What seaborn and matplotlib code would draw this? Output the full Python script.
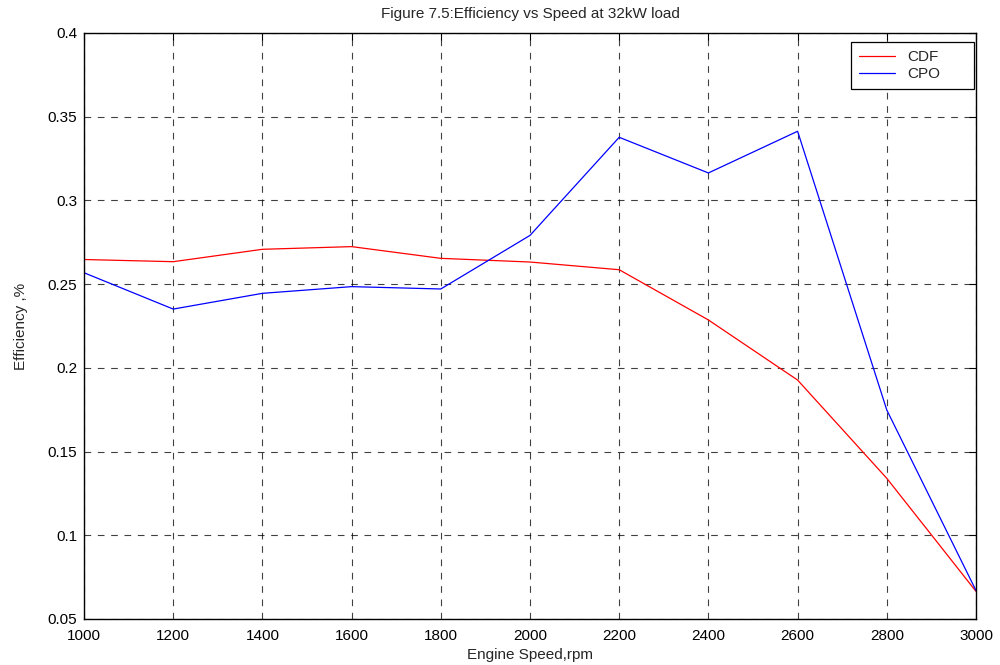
import matplotlib
matplotlib.use("Agg")
import matplotlib.pyplot as plt
from matplotlib.patches import Rectangle
import seaborn as sns
import pandas as pd

speed = [1000, 1200, 1400, 1600, 1800, 2000, 2200, 2400, 2600, 2800, 3000]
cdf = [0.2647, 0.2634, 0.2708, 0.2724, 0.2654, 0.2632, 0.2586, 0.2286, 0.1927, 0.1340, 0.0665]
cpo = [0.2568, 0.2351, 0.2445, 0.2485, 0.2471, 0.2791, 0.3377, 0.3164, 0.3413, 0.1748, 0.0670]
series_names = ["CDF", "CPO"]
x_ticks = [1000, 1200, 1400, 1600, 1800, 2000, 2200, 2400, 2600, 2800, 3000]
y_ticks = [0.05, 0.1, 0.15, 0.2, 0.25, 0.3, 0.35, 0.4]
y_labels = ["0.05", "0.1", "0.15", "0.2", "0.25", "0.3", "0.35", "0.4"]

df = pd.DataFrame({
    "speed": speed * 2,
    "eff": cdf + cpo,
    "series": [series_names[0]] * len(speed) + [series_names[1]] * len(speed),
})

sns.set_style("white")
plt.rcParams["font.family"] = ["Liberation Sans", "DejaVu Sans"]

fig = plt.figure(figsize=(10, 6.65), dpi=100)
ax = fig.add_axes([0.084, 0.0692, 0.892, 0.8812])

sns.lineplot(data=df, x="speed", y="eff", hue="series",
             palette={"CDF": "#ff0000", "CPO": "#0000ff"},
             linewidth=0.9, ax=ax, legend=True)

ax.set_xlim(1000, 3000)
ax.set_ylim(0.05, 0.4)
ax.set_xticks(x_ticks)
ax.set_yticks(y_ticks)
ax.set_xticklabels([str(t) for t in x_ticks])
ax.set_yticklabels(y_labels)
ax.grid(True, color="black", linestyle=(0, (6, 6)), linewidth=0.8, alpha=0.75)
ax.tick_params(direction="in", top=True, right=True, labelsize=11, length=5, width=0.8, colors="black")
ax.tick_params(axis="x", pad=7)
ax.tick_params(axis="y", pad=5)
for s in ax.spines.values():
    s.set_color("black")
    s.set_linewidth(1.0)

ax.set_xlabel("Engine Speed,rpm", fontsize=11, labelpad=4)
ax.set_ylabel("Efficiency ,%", fontsize=11, labelpad=14)
ax.set_title("Figure 7.5:Efficiency vs Speed at 32kW load", fontsize=11, pad=11)

extra = 26  # extra right padding (px) for a MATLAB-style legend box
leg = ax.legend(loc="upper right", bbox_to_anchor=(0.998 - extra / 892.0, 0.984), borderaxespad=0,
                fontsize=11, frameon=False,
                handlelength=2.4, handletextpad=0.8, borderpad=0.5, labelspacing=0.2)
leg.set_zorder(6)
fig.canvas.draw()
ext = leg.get_window_extent()
inv = ax.transAxes.inverted()
(x0, y0), (x1, y1) = inv.transform([(ext.x0, ext.y0), (ext.x1 + extra, ext.y1)])
box = Rectangle((x0, y0), x1 - x0, y1 - y0, transform=ax.transAxes,
                facecolor="white", edgecolor="black", linewidth=0.9, zorder=5.5)
ax.add_patch(box)

fig.savefig("out.png", dpi=100)
